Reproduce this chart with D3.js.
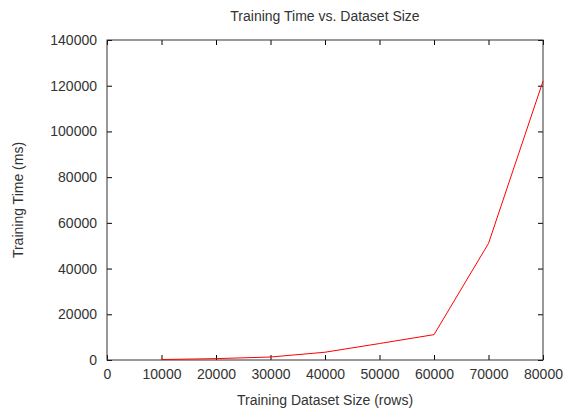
<!DOCTYPE html>
<html lang="en">
<head>
  <meta charset="UTF-8" />
  <script src="https://d3js.org/d3.v7.min.js"></script>
  <title>Training Time vs. Dataset Size</title>
  <style>
    body { margin: 0; background: #fff; }
    text { font-family: "Liberation Sans", Arial, sans-serif; font-size: 14px; fill: #333; }
  </style>
</head>
<body>
  <svg width="563" height="412"></svg>
  <script>
    // Data
    const datasetSizes = [10000, 20000, 30000, 40000, 50000, 60000, 70000, 80000];
    const trainingTimes = [200, 600, 1300, 3400, 7200, 11100, 51000, 122000];
    const xTicks = [0, 10000, 20000, 30000, 40000, 50000, 60000, 70000, 80000];
    const yTicks = [0, 20000, 40000, 60000, 80000, 100000, 120000, 140000];

    const svg = d3.select("svg");
    const margin = { top: 40, right: 20, bottom: 52, left: 107 };
    const width = 563 - margin.left - margin.right;
    const height = 412 - margin.top - margin.bottom;

    const x = d3.scaleLinear().domain([0, 80000]).range([0, width]);
    const y = d3.scaleLinear().domain([0, 140000]).range([height, 0]);

    const chart = svg.append("g")
      .attr("transform", `translate(${margin.left},${margin.top})`);

    // inward ticks on all four sides, gnuplot style
    const tick = 5;
    const fmt = d3.format("d");
    const axes = [
      { axis: d3.axisBottom(x).tickValues(xTicks).tickFormat(fmt).tickSizeInner(-tick).tickSizeOuter(0).tickPadding(9), t: `translate(0,${height})` },
      { axis: d3.axisTop(x).tickValues(xTicks).tickSizeInner(-tick).tickSizeOuter(0).tickFormat(""), t: "translate(0,0)" },
      { axis: d3.axisLeft(y).tickValues(yTicks).tickFormat(fmt).tickSizeInner(-tick).tickSizeOuter(0).tickPadding(10), t: "translate(0,0)" },
      { axis: d3.axisRight(y).tickValues(yTicks).tickSizeInner(-tick).tickSizeOuter(0).tickFormat(""), t: `translate(${width},0)` }
    ];
    axes.forEach(a => {
      const g = chart.append("g").attr("transform", a.t).call(a.axis);
      g.selectAll("line").attr("stroke", "#000");
      g.select(".domain").remove();
      g.selectAll("text").attr("font-family", null).attr("font-size", null).attr("fill", null);
    });

    chart.append("rect")
      .attr("x", 0).attr("y", 0)
      .attr("width", width).attr("height", height)
      .attr("fill", "none")
      .attr("stroke", "#333")
      .attr("stroke-width", 1);

    const line = d3.line()
      .x((d, i) => x(datasetSizes[i]))
      .y(d => y(d));

    chart.append("path")
      .datum(trainingTimes)
      .attr("d", line)
      .attr("fill", "none")
      .attr("stroke", "#ff0000")
      .attr("stroke-width", 1);

    svg.append("text")
      .attr("x", margin.left + width / 2).attr("y", 21)
      .attr("text-anchor", "middle")
      .text("Training Time vs. Dataset Size");

    svg.append("text")
      .attr("x", margin.left + width / 2).attr("y", 405)
      .attr("text-anchor", "middle")
      .text("Training Dataset Size (rows)");

    svg.append("text")
      .attr("transform", `translate(23,${margin.top + height / 2}) rotate(-90)`)
      .attr("text-anchor", "middle")
      .text("Training Time (ms)");
  </script>
</body>
</html>
